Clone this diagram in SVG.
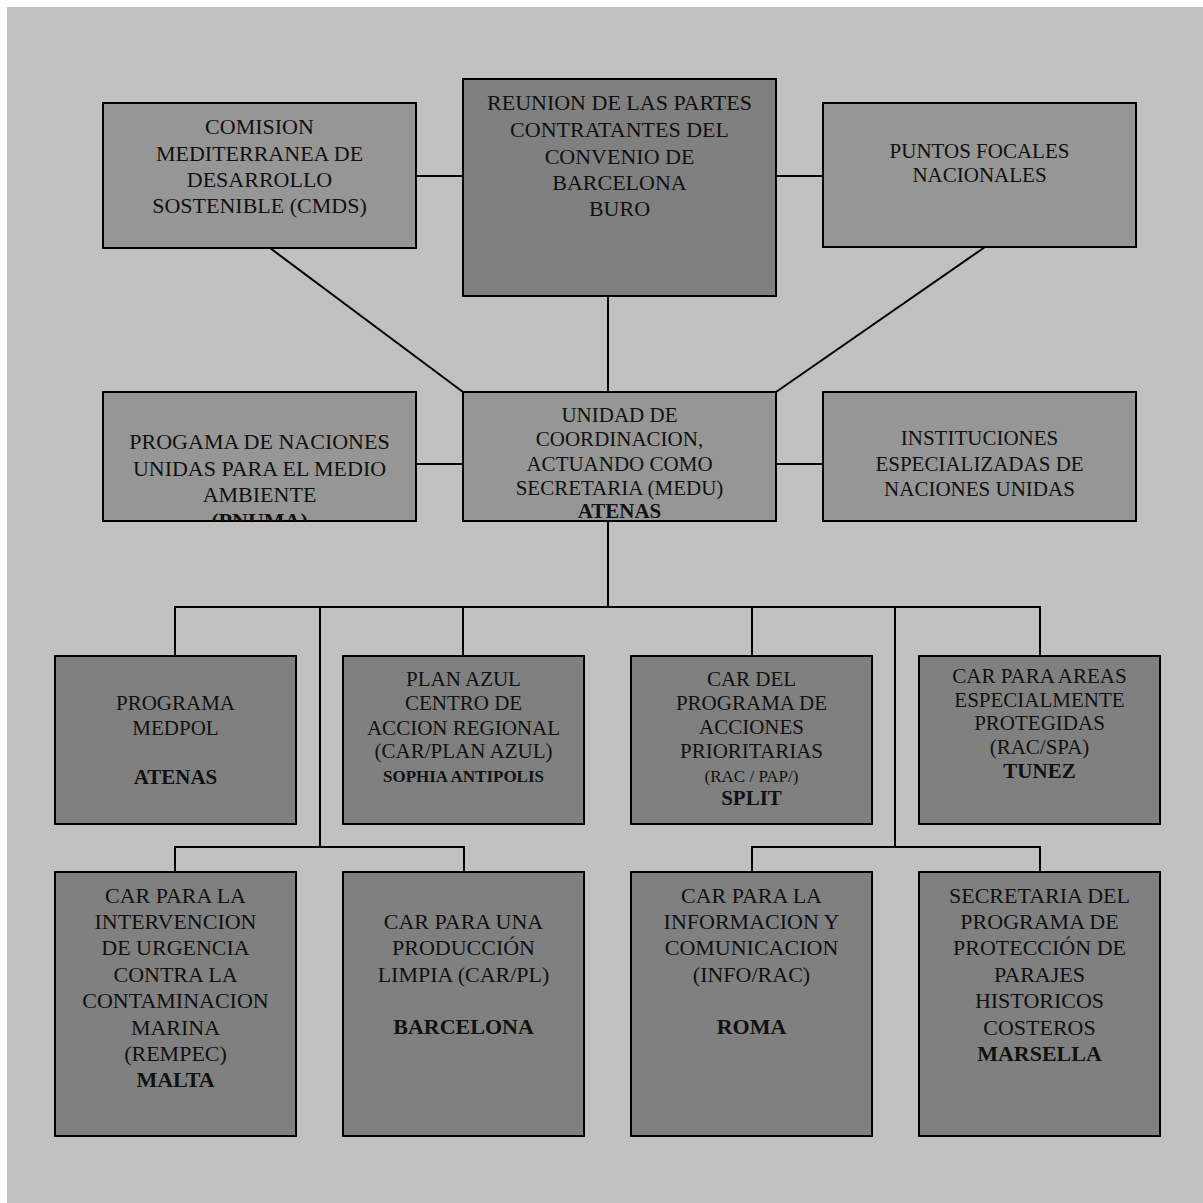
<svg xmlns="http://www.w3.org/2000/svg" width="1203" height="1203" viewBox="0 0 1203 1203">
<style>
.bg{fill:#c0c0c0}
.lt{fill:#969696;stroke:#000;stroke-width:2}
.dk{fill:#808080;stroke:#000;stroke-width:2}
.ln{stroke:#000;stroke-width:2;fill:none}
text{font-family:"Liberation Serif","Times New Roman",serif;fill:#111;text-anchor:middle}
.p{font-size:22px}
.t{font-size:21px}
.s{font-size:17px}
.b{font-weight:bold}
</style>
<defs>
<clipPath id="clipPnuma"><rect x="103" y="392" width="313" height="129"/></clipPath>
</defs>
<rect x="0" y="0" width="1203" height="1203" fill="#fff"/>
<rect class="bg" x="7" y="7" width="1196" height="1196"/>
<g id="connectors">
<line class="ln" x1="416" y1="176" x2="463" y2="176"/>
<line class="ln" x1="776" y1="176" x2="823" y2="176"/>
<line class="ln" x1="608" y1="296" x2="608" y2="392"/>
<line class="ln" x1="270" y1="248" x2="463" y2="392"/>
<line class="ln" x1="985" y1="247" x2="776" y2="392"/>
<line class="ln" x1="416" y1="464" x2="463" y2="464"/>
<line class="ln" x1="776" y1="464" x2="823" y2="464"/>
<line class="ln" x1="608" y1="521" x2="608" y2="607"/>
<polyline class="ln" points="175,656 175,607 1040,607 1040,656"/>
<line class="ln" x1="463" y1="607" x2="463" y2="656"/>
<line class="ln" x1="752" y1="607" x2="752" y2="656"/>
<line class="ln" x1="320" y1="607" x2="320" y2="847"/>
<line class="ln" x1="895" y1="607" x2="895" y2="847"/>
<polyline class="ln" points="175,872 175,847 464,847 464,872"/>
<polyline class="ln" points="752,872 752,847 1040,847 1040,872"/>
</g>
<g id="cmds">
<rect class="lt" x="103" y="103" width="313" height="145"/>
<text class="p" x="259.5" y="134">COMISION</text>
<text class="p" x="259.5" y="161">MEDITERRANEA DE</text>
<text class="p" x="259.5" y="187">DESARROLLO</text>
<text class="p" x="259.5" y="213">SOSTENIBLE (CMDS)</text>
</g>
<g id="reunion">
<rect class="dk" x="463" y="79" width="313" height="217"/>
<text class="p" x="619.5" y="110">REUNION DE LAS PARTES</text>
<text class="p" x="619.5" y="137">CONTRATANTES DEL</text>
<text class="p" x="619.5" y="164">CONVENIO DE</text>
<text class="p" x="619.5" y="190">BARCELONA</text>
<text class="p" x="619.5" y="216">BURO</text>
</g>
<g id="puntos">
<rect class="lt" x="823" y="103" width="313" height="144"/>
<text class="t" x="979.5" y="158">PUNTOS FOCALES</text>
<text class="t" x="979.5" y="182">NACIONALES</text>
</g>
<g id="pnuma">
<rect class="lt" x="103" y="392" width="313" height="129"/>
<g clip-path="url(#clipPnuma)">
<text class="p" x="259.5" y="449">PROGAMA DE NACIONES</text>
<text class="p" x="259.5" y="476">UNIDAS PARA EL MEDIO</text>
<text class="p" x="259.5" y="502">AMBIENTE</text>
<text class="p b" x="259.5" y="528">(PNUMA)</text>
</g>
</g>
<g id="unidad">
<rect class="lt" x="463" y="392" width="313" height="129"/>
<text class="t" x="619.5" y="422">UNIDAD DE</text>
<text class="t" x="619.5" y="446">COORDINACION,</text>
<text class="t" x="619.5" y="471">ACTUANDO COMO</text>
<text class="t" x="619.5" y="495">SECRETARIA (MEDU)</text>
<text class="t b" x="619.5" y="518">ATENAS</text>
</g>
<g id="instituciones">
<rect class="lt" x="823" y="392" width="313" height="129"/>
<text class="t" x="979.5" y="445">INSTITUCIONES</text>
<text class="t" x="979.5" y="471">ESPECIALIZADAS DE</text>
<text class="t" x="979.5" y="496">NACIONES UNIDAS</text>
</g>
<g id="medpol">
<rect class="dk" x="55" y="656" width="241" height="168"/>
<text class="t" x="175.5" y="710">PROGRAMA</text>
<text class="t" x="175.5" y="735">MEDPOL</text>
<text class="t b" x="175.5" y="784">ATENAS</text>
</g>
<g id="planazul">
<rect class="dk" x="343" y="656" width="241" height="168"/>
<text class="t" x="463.5" y="686">PLAN AZUL</text>
<text class="t" x="463.5" y="710">CENTRO DE</text>
<text class="t" x="463.5" y="735">ACCION REGIONAL</text>
<text class="t" x="463.5" y="758">(CAR/PLAN AZUL)</text>
<text class="s b" x="463.5" y="782">SOPHIA ANTIPOLIS</text>
</g>
<g id="pap">
<rect class="dk" x="631" y="656" width="241" height="168"/>
<text class="t" x="751.5" y="686">CAR DEL</text>
<text class="t" x="751.5" y="710">PROGRAMA DE</text>
<text class="t" x="751.5" y="734">ACCIONES</text>
<text class="t" x="751.5" y="758">PRIORITARIAS</text>
<text class="s" x="751.5" y="782">(RAC / PAP/)</text>
<text class="t b" x="751.5" y="805">SPLIT</text>
</g>
<g id="tunez">
<rect class="dk" x="919" y="656" width="241" height="168"/>
<text class="t" x="1039.5" y="683">CAR PARA AREAS</text>
<text class="t" x="1039.5" y="707">ESPECIALMENTE</text>
<text class="t" x="1039.5" y="730">PROTEGIDAS</text>
<text class="t" x="1039.5" y="754">(RAC/SPA)</text>
<text class="t b" x="1039.5" y="778">TUNEZ</text>
</g>
<g id="rempec">
<rect class="dk" x="55" y="872" width="241" height="264"/>
<text class="p" x="175.5" y="903">CAR PARA LA</text>
<text class="p" x="175.5" y="929">INTERVENCION</text>
<text class="p" x="175.5" y="955">DE URGENCIA</text>
<text class="p" x="175.5" y="982">CONTRA LA</text>
<text class="p" x="175.5" y="1008">CONTAMINACION</text>
<text class="p" x="175.5" y="1035">MARINA</text>
<text class="p" x="175.5" y="1061">(REMPEC)</text>
<text class="p b" x="175.5" y="1087">MALTA</text>
</g>
<g id="carpl">
<rect class="dk" x="343" y="872" width="241" height="264"/>
<text class="p" x="463.5" y="929">CAR PARA UNA</text>
<text class="p" x="463.5" y="955">PRODUCCIÓN</text>
<text class="p" x="463.5" y="982">LIMPIA (CAR/PL)</text>
<text class="p b" x="463.5" y="1034">BARCELONA</text>
</g>
<g id="inforac">
<rect class="dk" x="631" y="872" width="241" height="264"/>
<text class="p" x="751.5" y="903">CAR PARA LA</text>
<text class="p" x="751.5" y="929">INFORMACION Y</text>
<text class="p" x="751.5" y="955">COMUNICACION</text>
<text class="p" x="751.5" y="982">(INFO/RAC)</text>
<text class="p b" x="751.5" y="1034">ROMA</text>
</g>
<g id="marsella">
<rect class="dk" x="919" y="872" width="241" height="264"/>
<text class="p" x="1039.5" y="903">SECRETARIA DEL</text>
<text class="p" x="1039.5" y="929">PROGRAMA DE</text>
<text class="p" x="1039.5" y="955">PROTECCIÓN DE</text>
<text class="p" x="1039.5" y="982">PARAJES</text>
<text class="p" x="1039.5" y="1008">HISTORICOS</text>
<text class="p" x="1039.5" y="1035">COSTEROS</text>
<text class="p b" x="1039.5" y="1061">MARSELLA</text>
</g>
</svg>
